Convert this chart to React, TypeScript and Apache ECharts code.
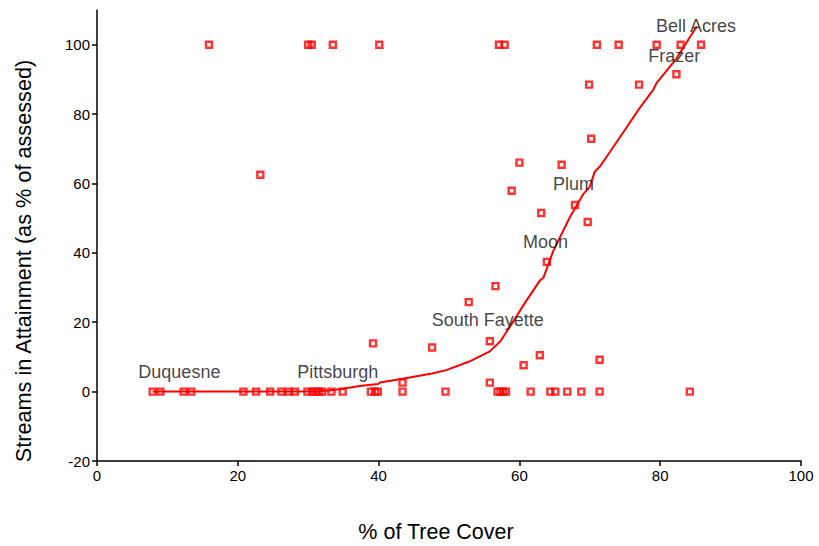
import React, { useEffect, useRef } from "react";
import * as echarts from "echarts";

// Scatter points: % tree cover (x) vs streams in attainment (y)
const treeCover = [
  15.9, 30.0, 30.5, 33.5, 40.1, 57.1, 57.9, 71.0, 74.1, 79.5, 82.9, 85.8,
  23.2, 69.9, 77.0, 82.3, 70.2, 60.0, 66.0, 58.9, 67.9, 63.1, 69.7, 63.9,
  56.6, 52.8, 39.2, 47.6, 55.8, 62.9, 60.6, 71.4, 43.4, 55.8,
  7.9, 9.0, 12.3, 13.4, 20.8, 22.6, 24.6, 26.2, 27.2, 28.1, 29.9, 30.6,
  31.1, 31.5, 32.0, 33.3, 34.9, 38.9, 39.5, 39.9, 43.4, 49.5, 56.9, 57.3,
  57.7, 58.1, 61.6, 64.4, 65.1, 66.8, 68.8, 71.4, 84.2,
];
const attainment = [
  100, 100, 100, 100, 100, 100, 100, 100, 100, 100, 100, 100,
  62.5, 88.5, 88.5, 91.5, 72.9, 66.0, 65.4, 57.9, 53.8, 51.5, 48.9, 37.4,
  30.4, 25.8, 13.9, 12.7, 14.5, 10.5, 7.6, 9.2, 2.6, 2.6,
  0, 0, 0, 0, 0, 0, 0, 0, 0, 0, 0, 0,
  0, 0, 0, 0, 0, 0, 0, 0, 0, 0, 0, 0,
  0, 0, 0, 0, 0, 0, 0, 0, 0,
];

// Smoothed trend line
const trendX = [
  7.9, 13.4, 20.8, 28.1, 31.5, 33.3, 34.9, 37.3, 39.9, 40.2, 43.4, 47.6,
  49.6, 52.8, 55.8, 57.3, 58.9, 60.6, 62.9, 63.4, 64.8, 67.2, 69.1, 70.0,
  70.7, 71.4, 72.9, 75.0, 77.0, 79.0, 79.5, 82.3, 85.2,
];
const trendY = [
  0, 0, 0, 0, 0.1, 0.4, 0.8, 1.6, 2.2, 2.6, 3.7, 5.2,
  6.2, 8.6, 11.6, 14.5, 19.5, 25.0, 32.0, 32.8, 40.5, 50.4, 57.0, 59.0,
  63.4, 64.8, 69.2, 75.5, 81.5, 87.0, 89.0, 96.0, 105.3,
];

// Municipality labels
const labelNames = ["Duquesne", "Pittsburgh", "South Fayette", "Moon", "Plum", "Frazer", "Bell Acres"];
const labelX = [11.7, 34.2, 55.5, 63.7, 67.7, 82.0, 85.1];
const labelY = [5.6, 5.6, 20.5, 43.1, 59.9, 96.8, 105.5];

const yTicks = [-20, 0, 20, 40, 60, 80, 100];

const FONT = "'Liberation Sans', Arial, Helvetica, sans-serif";

export default function App() {
  const ref = useRef<HTMLDivElement>(null);
  useEffect(() => {
    if (!ref.current) return;
    const chart = echarts.init(ref.current, undefined, { renderer: "svg" });
    const axisColor = "#000";
    chart.setOption({
      animation: false,
      backgroundColor: "#fff",
      grid: { left: 97, right: 18, top: 10, bottom: 85 },
      xAxis: {
        type: "value",
        min: 0,
        max: 100,
        interval: 20,
        axisLine: { show: true, onZero: false, lineStyle: { color: axisColor, width: 1.5 } },
        axisTick: { show: true, length: 5, lineStyle: { color: axisColor, width: 1.5 } },
        axisLabel: { color: "#000", fontSize: 15, fontFamily: FONT, margin: 7 },
        splitLine: { show: false },
      },
      yAxis: {
        type: "value",
        min: -20,
        max: 110,
        axisLine: { show: true, onZero: false, lineStyle: { color: axisColor, width: 1.5 } },
        axisTick: { show: true, length: 5, customValues: yTicks, lineStyle: { color: axisColor, width: 1.5 } },
        axisLabel: { color: "#000", fontSize: 15, fontFamily: FONT, margin: 7, customValues: yTicks },
        splitLine: { show: false },
      },
      graphic: [
        {
          type: "text",
          x: 23,
          y: 261,
          rotation: Math.PI / 2,
          style: {
            text: "Streams in Attainment (as % of assessed)",
            fontSize: 21.7,
            fontFamily: FONT,
            fill: "#000",
            textAlign: "center",
            textVerticalAlign: "middle",
          },
        },
        {
          type: "text",
          x: 436,
          y: 532,
          style: {
            text: "% of Tree Cover",
            fontSize: 21.5,
            fontFamily: FONT,
            fill: "#000",
            textAlign: "center",
            textVerticalAlign: "middle",
          },
        },
      ],
      series: [
        {
          type: "line",
          data: trendX.map((x, i) => [x, trendY[i]]),
          showSymbol: false,
          symbol: "none",
          lineStyle: { color: "#ff0000", width: 2 },
          z: 2,
        },
        {
          type: "scatter",
          data: treeCover.map((x, i) => [x, attainment[i]]),
          symbol: "rect",
          symbolSize: 6,
          itemStyle: { color: "rgba(0,0,0,0)", borderColor: "#ff0000", borderWidth: 2.4 },
          z: 3,
        },
        {
          type: "scatter",
          data: labelNames.map((n, i) => ({ name: n, value: [labelX[i], labelY[i]] })),
          symbolSize: 0,
          itemStyle: { color: "rgba(0,0,0,0)" },
          label: {
            show: true,
            position: "inside",
            formatter: "{b}",
            color: "#111",
            textBorderWidth: 0,
            fontSize: 18,
            fontFamily: FONT,
          },
          z: 4,
        },
      ],
    });
    return () => chart.dispose();
  }, []);
  return <div ref={ref} style={{ position: "fixed", left: 0, top: 0, width: 819, height: 546 }} />;
}
